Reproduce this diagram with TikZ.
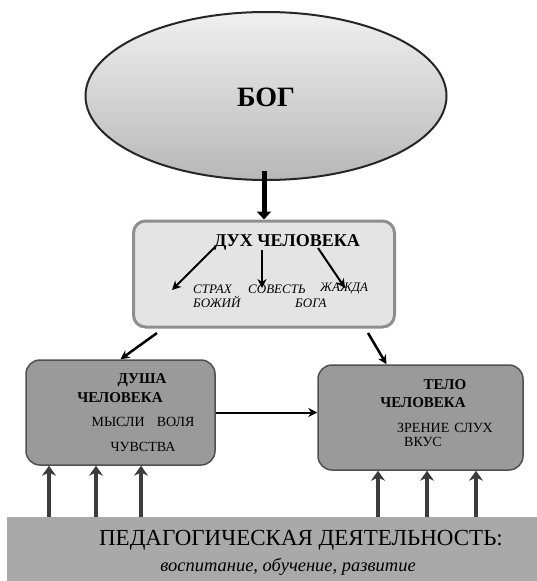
\documentclass[tikz,border=0pt]{standalone}
\usepackage{fontspec}
\setmainfont{LiberationSerif}[Extension=.ttf, UprightFont=*-Regular, BoldFont=*-Bold, ItalicFont=*-Italic, BoldItalicFont=*-BoldItalic]
\usetikzlibrary{shapes.geometric,arrows.meta}
\definecolor{duhfill}{HTML}{E4E4E4}
\definecolor{duhline}{HTML}{8E8E8E}
\definecolor{boxfill}{HTML}{9A9A9A}
\definecolor{boxline}{HTML}{505050}
\definecolor{bandfill}{HTML}{A9A9A9}
\definecolor{uparrow}{HTML}{3C3C3C}
\tikzset{
	box/.style={draw=boxline, fill=boxfill, line width=1.5pt, rounded corners=14pt, inner sep=0pt},
	lbl/.style={inner sep=1pt, align=center},
	item/.style={lbl, anchor=west, align=left, font=\fontsize{13}{14}\selectfont\itshape},
	blk/.style={line width=2pt, -{Stealth[length=9pt,width=9pt]}},
	up/.style={draw=uparrow, line width=4pt, -{Stealth[length=10pt,width=14pt]}}
}

\begin{document}
\begin{tikzpicture}[x=1pt, y=-1pt]
			%%%%% START %%%%%
			\useasboundingbox (0, 0) rectangle (537, 581);
			
			\node[ellipse, draw=black!85, line width=2pt, top color=black!6, bottom color=black!28,
				minimum width=361pt, minimum height=168pt] (bog) at (266, 96) {};
			\node[lbl, font=\fontsize{28}{28}\selectfont\bfseries] (boglbl) at (266, 97) {БОГ};
			
			\node[box, draw=duhline, fill=duhfill, line width=3pt, rounded corners=12pt,
				minimum width=261pt, minimum height=106pt] (duh) at (264, 274) {};
			\node[lbl, font=\fontsize{18}{18}\selectfont\bfseries] (duhlbl) at (287, 242) {ДУХ ЧЕЛОВЕКА};
			\node[item] (strah) at (192, 296) {СТРАХ\\БОЖИЙ};
			\node[item] (sovest) at (247, 289) {СОВЕСТЬ};
			\node[item] (zhazhda) at (319, 289) {ЖАЖДА};
			\node[item] (boga) at (294, 303) {БОГА};
			
			\node[box, minimum width=189pt, minimum height=105pt] (dusha) at (120.5, 412.5) {};
			\node[lbl, font=\fontsize{15}{15}\selectfont\bfseries] (dushalbl) at (142, 380) {ДУША};
			\node[lbl, font=\fontsize{15}{15}\selectfont\bfseries] (dushachel) at (120, 398) {ЧЕЛОВЕКА};
			\node[lbl, font=\fontsize{14}{14}\selectfont] (mysli) at (143, 422) {МЫСЛИ\hspace{12pt}ВОЛЯ};
			\node[lbl, font=\fontsize{14}{14}\selectfont] (chuvstva) at (143, 447) {ЧУВСТВА};
			
			\node[box, minimum width=205pt, minimum height=105pt] (telo) at (420.5, 417.5) {};
			\node[lbl, font=\fontsize{15}{15}\selectfont\bfseries] (telolbl) at (445, 385) {ТЕЛО};
			\node[lbl, font=\fontsize{15}{15}\selectfont\bfseries] (telochel) at (423, 403) {ЧЕЛОВЕКА};
			\node[lbl, font=\fontsize{14}{14}\selectfont] (zrenie) at (445, 428) {ЗРЕНИЕ\hspace{5pt}СЛУХ};
			\node[lbl, font=\fontsize{14}{14}\selectfont] (vkus) at (423, 442) {ВКУС};
			
			\node[fill=bandfill, minimum width=530pt, minimum height=64pt, inner sep=0pt] (band) at (272, 549) {};
			\node[lbl, font=\fontsize{23}{23}\selectfont] (pedagog) at (301, 540) {ПЕДАГОГИЧЕСКАЯ ДЕЯТЕЛЬНОСТЬ:};
			\node[lbl, font=\fontsize{18.5}{18.5}\selectfont\itshape] (vospit) at (288, 567) {воспитание, обучение, развитие};
			
			% arrows
			\draw[line width=5pt, -{Triangle[length=8pt,width=14pt]}] ([yshift=10pt]bog.south -| duh.north) -- (duh.north);
			
			\coordinate (s1) at (172, 290);
			\coordinate (s2) at (262, 288);
			\coordinate (s3) at (345, 288);
			\draw[blk] ([xshift=-72pt, yshift=-5pt]duhlbl.center) -- (s1);
			\draw[blk] ([xshift=-25pt, yshift=-8pt]duhlbl.center) -- (s2);
			\draw[blk] ([xshift=31pt, yshift=-6pt]duhlbl.center) -- (s3);
			
			\coordinate (d1) at (157, 333);
			\coordinate (d2) at (368, 333);
			\draw[blk, line width=2.5pt] (d1) -- (dusha.north);
			\draw[blk, line width=2.5pt] (d2) -- ([xshift=-34pt]telo.north);
			\draw[blk] (dusha.east) -- (dusha.east -| telo.west);
			
			\foreach \x in {49, 96, 141}
				\draw[up] (\x, 0 |- band.north) -- (\x, 0 |- dusha.south);
			\foreach \x in {378, 427, 476}
				\draw[up] (\x, 0 |- band.north) -- (\x, 0 |- telo.south);
			
			%%%%% END %%%%%
\end{tikzpicture}
\end{document}
